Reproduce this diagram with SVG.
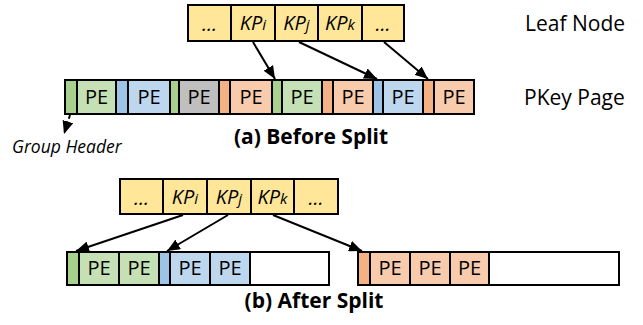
<svg xmlns="http://www.w3.org/2000/svg" width="643" height="325" viewBox="0 0 643 325">
  <style>
    .box { stroke: #000; stroke-width: 2; }
    .leaf { fill: #FFE699; }
    .gH { fill: #A9D18E; } .gP { fill: #C5E0B4; }
    .bH { fill: #9DC3E6; } .bP { fill: #BDD7EE; }
    .oH { fill: #F4B183; } .oP { fill: #F8CBAD; }
    .xP { fill: #BFBFBF; } .empty { fill: #fff; }
    .t { font-family: "Open Sans", "Liberation Sans", sans-serif; fill: #000; }
    .pe { font-size: 20px; text-anchor: middle; }
    .kp { font-size: 20px; font-style: italic; text-anchor: middle; }
    .sub { font-size: 15px; }
    .side { font-size: 21px; }
    .cap { font-size: 21px; font-weight: bold; text-anchor: middle; }
    .note { font-size: 17.5px; font-style: italic; }
    .edge { stroke: #000; stroke-width: 2; fill: none; marker-end: url(#head); }
    .dash { stroke-dasharray: 4 3; }
  </style>
  <defs>
    <marker id="head" markerUnits="userSpaceOnUse" markerWidth="14" markerHeight="11" refX="13" refY="5.5" orient="auto">
      <path d="M0,0 L13,5.5 L0,11 z" fill="#000"/>
    </marker>
  </defs>

  <!-- upper leaf node -->
  <g id="leaf-top">
    <rect class="box leaf" x="188" y="5" width="43" height="36"/>
    <rect class="box leaf" x="231" y="5" width="44" height="36"/>
    <rect class="box leaf" x="275" y="5" width="43" height="36"/>
    <rect class="box leaf" x="318" y="5" width="44" height="36"/>
    <rect class="box leaf" x="362" y="5" width="42" height="36"/>
    <text class="t kp" x="209.5" y="31" font-style="normal">...</text>
    <text class="t kp" x="253" y="30">KP<tspan class="sub">i</tspan></text>
    <text class="t kp" x="296.5" y="30">KP<tspan class="sub">j</tspan></text>
    <text class="t kp" x="340" y="30">KP<tspan class="sub">k</tspan></text>
    <text class="t kp" x="383" y="31" font-style="normal">...</text>
  </g>

  <!-- key page before the split -->
  <g id="pkey-page">
    <rect class="box gH" x="65" y="80" width="12" height="34"/>
    <rect class="box gP" x="77" y="80" width="39" height="34"/>
    <rect class="box bH" x="116" y="80" width="12" height="34"/>
    <rect class="box bP" x="128" y="80" width="42" height="34"/>
    <rect class="box gH" x="170" y="80" width="9" height="34"/>
    <rect class="box xP" x="179" y="80" width="40" height="34"/>
    <rect class="box oH" x="219" y="80" width="11" height="34"/>
    <rect class="box oP" x="230" y="80" width="42" height="34"/>
    <rect class="box gH" x="272" y="80" width="10" height="34"/>
    <rect class="box gP" x="282" y="80" width="40" height="34"/>
    <rect class="box oH" x="322" y="80" width="11" height="34"/>
    <rect class="box oP" x="333" y="80" width="40" height="34"/>
    <rect class="box bH" x="373" y="80" width="10" height="34"/>
    <rect class="box bP" x="383" y="80" width="40" height="34"/>
    <rect class="box oH" x="423" y="80" width="11" height="34"/>
    <rect class="box oP" x="434" y="80" width="40" height="34"/>
    <text class="t pe" x="96.5" y="104">PE</text>
    <text class="t pe" x="149" y="104">PE</text>
    <text class="t pe" x="199" y="104">PE</text>
    <text class="t pe" x="251" y="104">PE</text>
    <text class="t pe" x="302" y="104">PE</text>
    <text class="t pe" x="353" y="104">PE</text>
    <text class="t pe" x="403" y="104">PE</text>
    <text class="t pe" x="454" y="104">PE</text>
  </g>

  <!-- lower leaf node -->
  <g id="leaf-bottom">
    <rect class="box leaf" x="120" y="179" width="43" height="35"/>
    <rect class="box leaf" x="163" y="179" width="44" height="35"/>
    <rect class="box leaf" x="207" y="179" width="44" height="35"/>
    <rect class="box leaf" x="251" y="179" width="43" height="35"/>
    <rect class="box leaf" x="294" y="179" width="44" height="35"/>
    <text class="t kp" x="141.5" y="205" font-style="normal">...</text>
    <text class="t kp" x="185" y="204">KP<tspan class="sub">i</tspan></text>
    <text class="t kp" x="229" y="204">KP<tspan class="sub">j</tspan></text>
    <text class="t kp" x="272.5" y="204">KP<tspan class="sub">k</tspan></text>
    <text class="t kp" x="316" y="205" font-style="normal">...</text>
  </g>

  <!-- left page after the split -->
  <g id="page-left">
    <rect class="box empty" x="67" y="252" width="262" height="33"/>
    <rect class="box gH" x="67" y="252" width="12" height="33"/>
    <rect class="box gP" x="79" y="252" width="40" height="33"/>
    <rect class="box gP" x="119" y="252" width="40" height="33"/>
    <rect class="box bH" x="159" y="252" width="11" height="33"/>
    <rect class="box bP" x="170" y="252" width="40" height="33"/>
    <rect class="box bP" x="210" y="252" width="40" height="33"/>
    <text class="t pe" x="99" y="275">PE</text>
    <text class="t pe" x="139" y="275">PE</text>
    <text class="t pe" x="190" y="275">PE</text>
    <text class="t pe" x="230" y="275">PE</text>
  </g>

  <!-- right page after the split -->
  <g id="page-right">
    <rect class="box empty" x="358" y="252" width="261" height="33"/>
    <rect class="box oH" x="358" y="252" width="12" height="33"/>
    <rect class="box oP" x="370" y="252" width="40" height="33"/>
    <rect class="box oP" x="410" y="252" width="40" height="33"/>
    <rect class="box oP" x="450" y="252" width="39" height="33"/>
    <text class="t pe" x="390" y="275">PE</text>
    <text class="t pe" x="430" y="275">PE</text>
    <text class="t pe" x="469.5" y="275">PE</text>
  </g>

  <!-- labels -->
  <g id="labels">
    <text class="t side" x="525" y="31">Leaf Node</text>
    <text class="t side" x="524" y="105">PKey Page</text>
    <text class="t cap" x="311" y="144">(a) Before Split</text>
    <text class="t note" x="12" y="153">Group Header</text>
    <text class="t cap" x="314" y="308">(b) After Split</text>
  </g>

  <!-- pointers -->
  <g id="connectors">
    <line class="edge" x1="253" y1="42" x2="275" y2="79"/>
    <line class="edge" x1="299" y1="42" x2="377" y2="79"/>
    <line class="edge" x1="384" y1="42" x2="428" y2="79"/>
    <line class="edge dash" x1="70" y1="115" x2="64" y2="134"/>
    <line class="edge" x1="183" y1="215" x2="76" y2="251"/>
    <line class="edge" x1="228" y1="215" x2="167" y2="251"/>
    <line class="edge" x1="273" y1="215" x2="362" y2="251"/>
  </g>
</svg>
